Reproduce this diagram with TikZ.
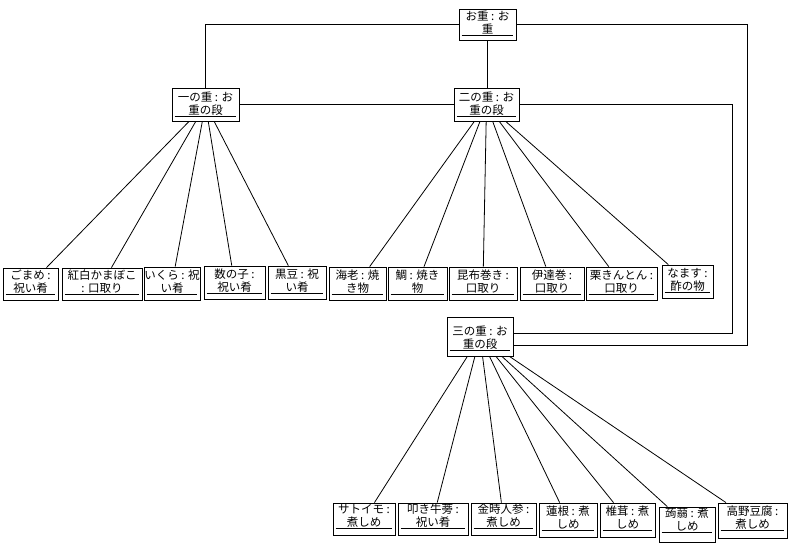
\documentclass[tikz,border=0pt]{standalone}
\usepackage{fontspec}
\newfontfamily\jp{Noto Sans CJK JP}
\usetikzlibrary{fit,calc}
\tikzset{
  objbox/.style={draw, line width=0.8pt, inner sep=0pt, rectangle},
  objtext/.style={font=\jp\fontsize{11.5}{13}\selectfont, inner sep=0pt, anchor=base},
  uline/.style={line width=0.8pt},
  conn/.style={line width=0.8pt},
}
% #1 name, #2 x1, #3 y1, #4 x2, #5 y2, #6 line1, #7 line2, #8 gap of underline above bottom
\newcommand{\obj}[8]{%
  \node[objbox, fit={(#2,#3) (#4,#5)}] (#1) {};
  \node[objtext] (#1-b) at ({(#2+#4)/2},{#5-#8-1.5}) {#7};
  \node[objtext] (#1-a) at ({(#2+#4)/2},{#5-#8-15}) {#6};
  \draw[uline] ([shift={(3,-#8)}]#1.south west) -- ([shift={(-3,-#8)}]#1.south east);
}
\begin{document}
\begin{tikzpicture}[x=1pt,y=-1pt]
\useasboundingbox (0,0) rectangle (791,544);

\obj{top}{459}{9}{516}{40}{お重 : お}{重}{5}
\obj{one}{172}{88}{239}{121}{一の重 : お}{重の段}{5}
\obj{two}{454}{88}{519}{121}{二の重 : お}{重の段}{5}
\obj{three}{447}{317}{513}{356}{三の重 : お}{重の段}{6}

\obj{gomame}{3}{268}{58}{300}{ごまめ :}{祝い肴}{6}
\obj{kouhaku}{62}{268}{142}{300}{紅白かまぼこ}{: 口取り}{6}
\obj{ikura}{144}{267}{200}{300}{いくら : 祝}{い肴}{6}
\obj{kazunoko}{204}{266}{265}{299}{数の子 :}{祝い肴}{6}
\obj{kuromame}{268}{266}{326}{299}{黒豆 : 祝}{い肴}{6}
\obj{ebi}{329}{267}{386}{300}{海老 : 焼}{き物}{6}
\obj{tai}{388}{267}{447}{300}{鯛 : 焼き}{物}{6}
\obj{kobu}{449}{267}{517}{300}{昆布巻き :}{口取り}{6}
\obj{date}{520}{267}{584}{300}{伊達巻 :}{口取り}{6}
\obj{kuri}{586}{267}{657}{300}{栗きんとん :}{口取り}{6}
\obj{namasu}{662}{265}{713}{298}{なます :}{酢の物}{6}

\obj{satoimo}{333}{503}{395}{535}{サトイモ :}{煮しめ}{7}
\obj{gobou}{398}{503}{468}{535}{叩き牛蒡 :}{祝い肴}{7}
\obj{ninjin}{471}{503}{536}{535}{金時人参 :}{煮しめ}{7}
\obj{renkon}{539}{503}{597}{537}{蓮根 : 煮}{しめ}{7}
\obj{shiitake}{600}{503}{655}{537}{椎茸 : 煮}{しめ}{7}
\obj{konnyaku}{659}{507}{715}{542}{蒟蒻 : 煮}{しめ}{10}
\obj{kouya}{718}{503}{787}{538}{高野豆腐 :}{煮しめ}{8}

\coordinate (c1) at (732,333);
\coordinate (c2) at (747,345);

\draw[conn] (top) -| (one);
\draw[conn] (top.south) -- (top.south |- two.north);
\draw[conn] (one) -- (two);
\draw[conn] (two) -| (c1) -- (three.east |- c1);
\draw[conn] (top) -| (c2) -- (three.east |- c2);

\foreach \n in {gomame,kouhaku,ikura,kazunoko,kuromame}
  \draw[conn] (one) -- (\n);
\foreach \n in {ebi,tai,kobu,date,kuri,namasu}
  \draw[conn] (two) -- (\n);
\foreach \n in {satoimo,gobou,ninjin,renkon,shiitake,konnyaku,kouya}
  \draw[conn] (three) -- (\n);
\end{tikzpicture}
\end{document}
